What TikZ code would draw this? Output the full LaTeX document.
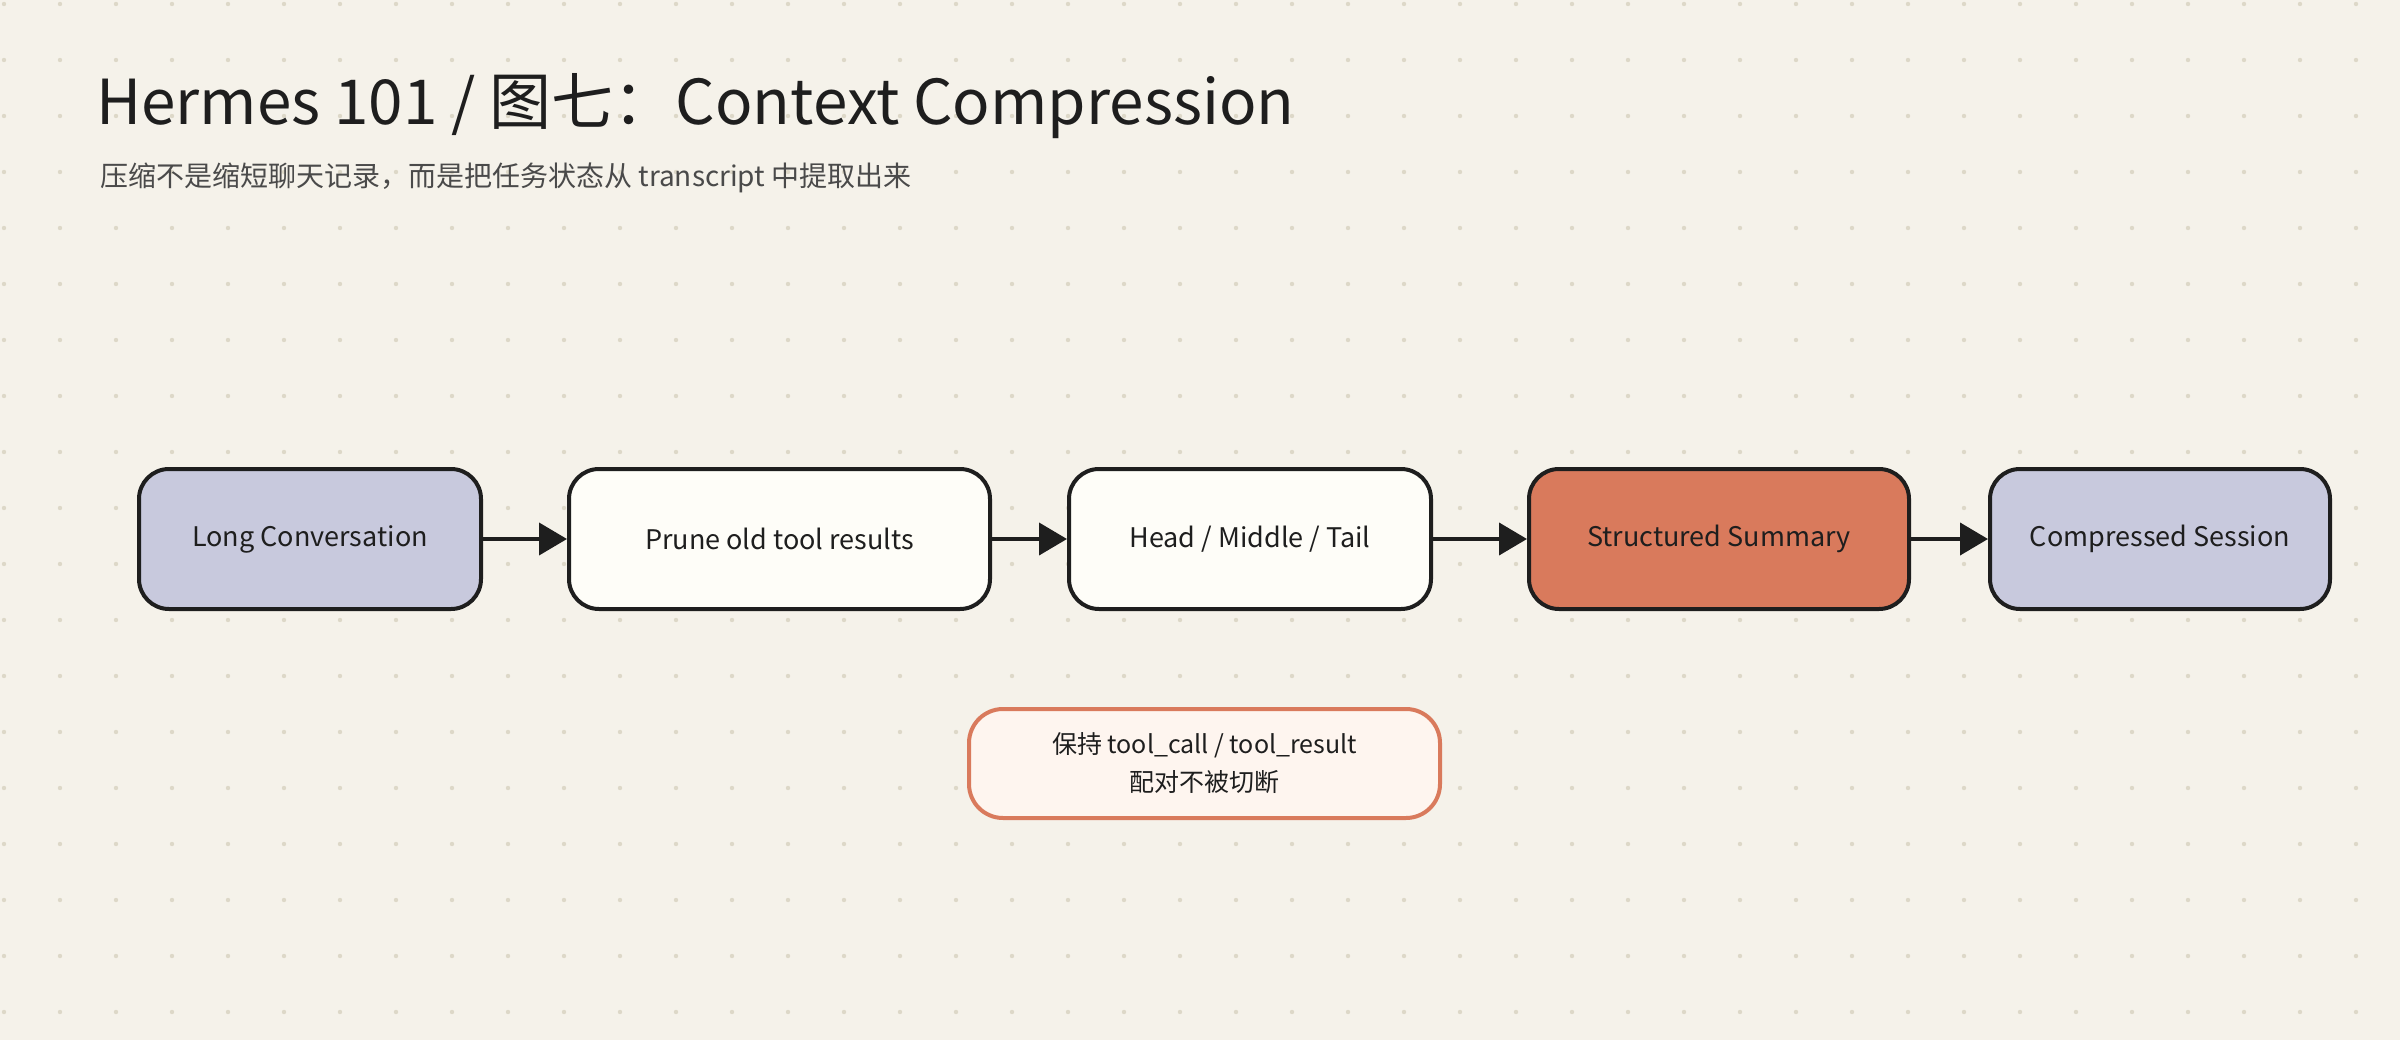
\documentclass[tikz,border=0pt]{standalone}
\usepackage{fontspec}
\setmainfont{Noto Sans CJK SC}
\usetikzlibrary{arrows.meta}
\definecolor{bg}{HTML}{F5F2EA}
\definecolor{dotc}{HTML}{DDD8C8}
\definecolor{lav}{HTML}{C8C9DD}
\definecolor{wht}{HTML}{FEFDF8}
\definecolor{org}{HTML}{D97A5C}
\definecolor{notef}{HTML}{FEF5EF}
\definecolor{ink}{HTML}{1E1E1E}
\definecolor{sub}{HTML}{4A4A4A}
\begin{document}
\begin{tikzpicture}[x=1pt,y=-1pt,
  box/.style={draw=ink,line width=4pt,rounded corners=30pt,font=\fontsize{27}{32}\selectfont,text=ink},
  arr/.style={draw=ink,line width=4pt,-{Triangle[length=28pt,width=32pt]}}]
\useasboundingbox (0,0) rectangle (2400,1040);
\fill[bg] (0,0) rectangle (2400,1040);
\foreach \i in {0,...,42} \foreach \j in {0,...,18} \fill[dotc] (4+56*\i,4+56*\j) circle (2.2);
\node[anchor=base west,text=ink,font=\fontsize{62}{70}\selectfont,inner sep=0] (t) at (96,125) {Hermes 101 / 图七：Context Compression};
\node[anchor=base west,text=sub,font=\fontsize{28}{34}\selectfont,inner sep=0] (s) at (100,187) {压缩不是缩短聊天记录，而是把任务状态从 transcript 中提取出来};
\draw[box,fill=lav] (139,469) rectangle (481,609);
\node[box,draw=none,rounded corners=0,inner sep=0,minimum width=342pt,minimum height=140pt] (a) at (310,539) {Long Conversation};
\draw[box,fill=wht] (569,469) rectangle (990,609);
\node[box,draw=none,rounded corners=0,inner sep=0,minimum width=421pt,minimum height=140pt] (b) at (779.5,539) {Prune old tool results};
\draw[box,fill=wht] (1069,469) rectangle (1431,609);
\node[box,draw=none,rounded corners=0,inner sep=0,minimum width=362pt,minimum height=140pt] (c) at (1250,539) {Head / Middle / Tail};
\draw[box,fill=org] (1529,469) rectangle (1909,609);
\node[box,draw=none,rounded corners=0,inner sep=0,minimum width=380pt,minimum height=140pt] (d) at (1719,539) {Structured Summary};
\draw[box,fill=lav] (1990,469) rectangle (2330,609);
\node[box,draw=none,rounded corners=0,inner sep=0,minimum width=340pt,minimum height=140pt] (e) at (2160,539) {Compressed Session};
\draw[org,line width=4pt,rounded corners=34pt,fill=notef] (969,709) rectangle (1440,818);
\node[align=center,text=ink,font=\fontsize{25}{38}\selectfont,inner sep=0] (n) at (1204.5,763) {保持 tool\_call / tool\_result\\配对不被切断};
\draw[arr] (a.east) -- (b.west);
\draw[arr] (b.east) -- (c.west);
\draw[arr] (c.east) -- (d.west);
\draw[arr] (d.east) -- (e.west);
\end{tikzpicture}
\end{document}
